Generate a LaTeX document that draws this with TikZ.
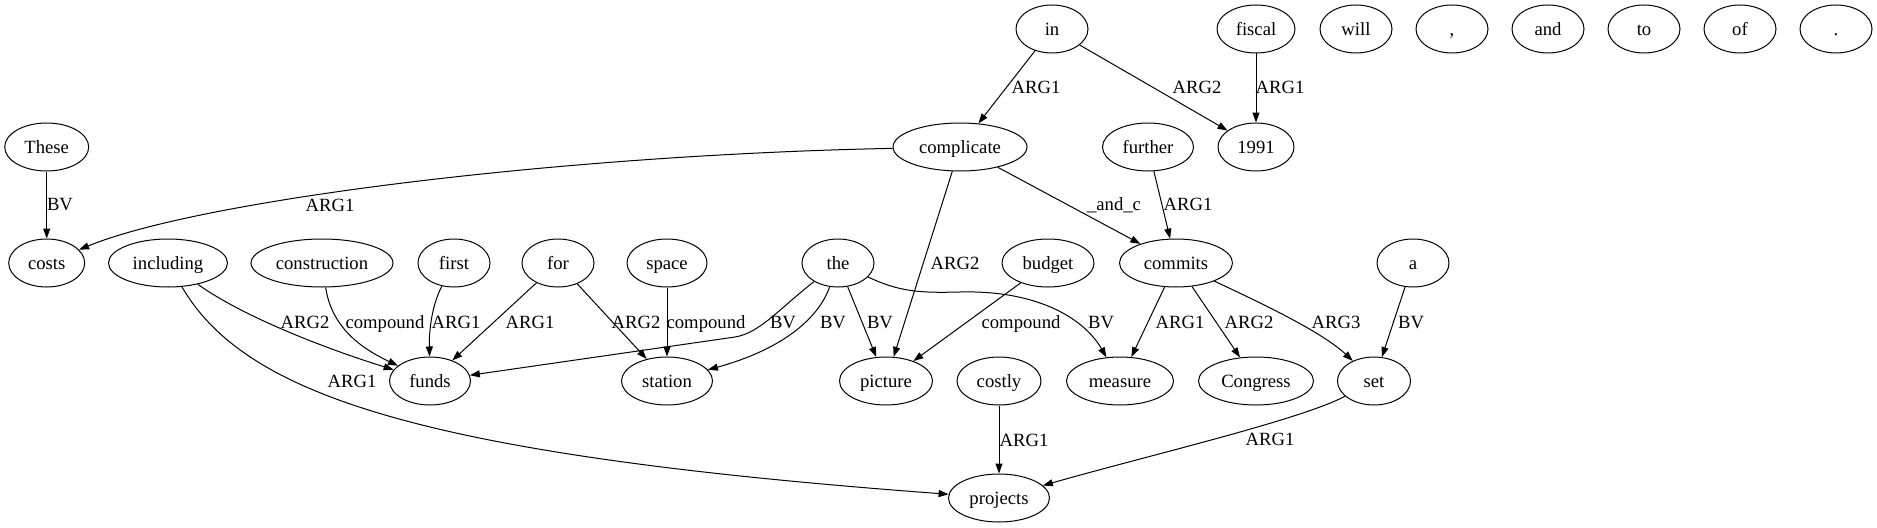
\documentclass[tikz,border=0pt]{standalone}
\usepackage{fontspec}
\setmainfont{Liberation Serif}
\usetikzlibrary{arrows.meta,shapes.geometric}
\begin{document}
\begin{tikzpicture}[x=0.75pt,y=-0.75pt,
  every node/.style={font=\fontsize{14pt}{16pt}\selectfont, text height=9.4pt, text depth=0pt},
  word/.style={draw, ellipse, line width=0.75pt, inner sep=0pt, minimum height=36pt, minimum width=#1*0.75pt},
  word/.default=72,
  lbl/.style={inner sep=0pt},
  link/.style={draw, line width=0.75pt, -{Triangle[length=7.5pt,width=5.25pt]}},
]
\useasboundingbox (0,0) rectangle (1877,528);

% row 1
\node[word] (nin) at (1052,29) {in};
\node[word=78] (nfiscal) at (1256,29) {fiscal};
\node[word] (nwill) at (1356,29) {will};
\node[word] (ncomma) at (1452,29) {,};
\node[word] (nand) at (1548,29) {and};
\node[word] (nto) at (1644,29) {to};
\node[word] (nof) at (1740,29) {of};
\node[word] (ndot) at (1836,29) {.};
% row 2
\node[word=84] (nThese) at (46.7,147) {These};
\node[word=134] (ncomplicate) at (960,147) {complicate};
\node[word=91] (nfurther) at (1148,147) {further};
\node[word=76] (nyear) at (1256,147) {1991};
% row 3
\node[word=76] (ncosts) at (46.7,263) {costs};
\node[word=119] (nincluding) at (168,263) {including};
\node[word=142] (nconstruction) at (322,263) {construction};
\node[word] (nfirst) at (454,263) {first};
\node[word] (nfor) at (558,263) {for};
\node[word=80] (nspace) at (667,263) {space};
\node[word] (nthe) at (838,263) {the};
\node[word=92] (nbudget) at (1048,263) {budget};
\node[word=113] (ncommits) at (1176,263) {commits};
\node[word] (na) at (1413,263) {a};
% row 4
\node[word=81] (nfunds) at (430,381) {funds};
\node[word=91] (nstation) at (667,381) {station};
\node[word=93] (npicture) at (886,381) {picture};
\node[word=84] (ncostly) at (999,381) {costly};
\node[word=107] (nmeasure) at (1120,381) {measure};
\node[word=115] (nCongress) at (1256,381) {Congress};
\node[word=73] (nset) at (1374,381) {set};
% row 5
\node[word=101] (nprojects) at (999,498) {projects};

% edges
\draw[link] (nThese) -- (ncosts) node[lbl] at (60,204) {BV};
\draw[link] (ncomplicate) .. controls (560,155) and (200,200) .. (ncosts) node[lbl] at (330,205) {ARG1};
\draw[link] (nincluding) .. controls (245,318) and (330,350) .. (nfunds) node[lbl] at (305,322) {ARG2};
\draw[link] (nincluding) .. controls (245,395) and (420,455) .. (nprojects) node[lbl] at (352,381) {ARG1};
\draw[link] (nconstruction) .. controls (332,330) and (365,350) .. (nfunds) node[lbl] at (385,322) {compound};
\draw[link] (nfirst) .. controls (432,305) and (429,330) .. (nfunds) node[lbl] at (456,322) {ARG1};
\draw[link] (nfor) -- (nfunds) node[lbl] at (530,322) {ARG1};
\draw[link] (nfor) -- (nstation) node[lbl] at (636,322) {ARG2};
\draw[link] (nspace) -- (nstation) node[lbl] at (706,322) {compound};
\draw[link] (nthe) .. controls (780,308) and (760,333) .. (735,337) -- (nfunds) node[lbl] at (783,322) {BV};
\draw[link] (nthe) .. controls (818,320) and (780,350) .. (nstation) node[lbl] at (833,322) {BV};
\draw[link] (nthe) -- (npicture) node[lbl] at (880,322) {BV};
\draw[link] (nthe) .. controls (900,292) and (920,293) .. (960,292) .. controls (1040,290) and (1085,320) .. (nmeasure) node[lbl] at (1101,322) {BV};
\draw[link] (ncomplicate) -- (npicture) node[lbl] at (955,263) {ARG2};
\draw[link] (nbudget) -- (npicture) node[lbl] at (1021,322) {compound};
\draw[link] (ncostly) -- (nprojects) node[lbl] at (1024,440) {ARG1};
\draw[link] (ncomplicate) -- (ncommits) node[lbl] at (1114,204) {\_and\_c};
\draw[link] (nin) -- (ncomplicate) node[lbl] at (1036,87) {ARG1};
\draw[link] (nin) -- (nyear) node[lbl] at (1197,87) {ARG2};
\draw[link] (nfiscal) -- (nyear) node[lbl] at (1280,87) {ARG1};
\draw[link] (nfurther) -- (ncommits) node[lbl] at (1188,204) {ARG1};
\draw[link] (ncommits) -- (nmeasure) node[lbl] at (1180,322) {ARG1};
\draw[link] (ncommits) -- (nCongress) node[lbl] at (1249,322) {ARG2};
\draw[link] (ncommits) .. controls (1250,298) and (1320,330) .. (nset) node[lbl] at (1336,322) {ARG3};
\draw[link] (na) -- (nset) node[lbl] at (1411,322) {BV};
\draw[link] (nset) .. controls (1300,420) and (1150,455) .. (nprojects) node[lbl] at (1270,439) {ARG1};
\end{tikzpicture}
\end{document}
